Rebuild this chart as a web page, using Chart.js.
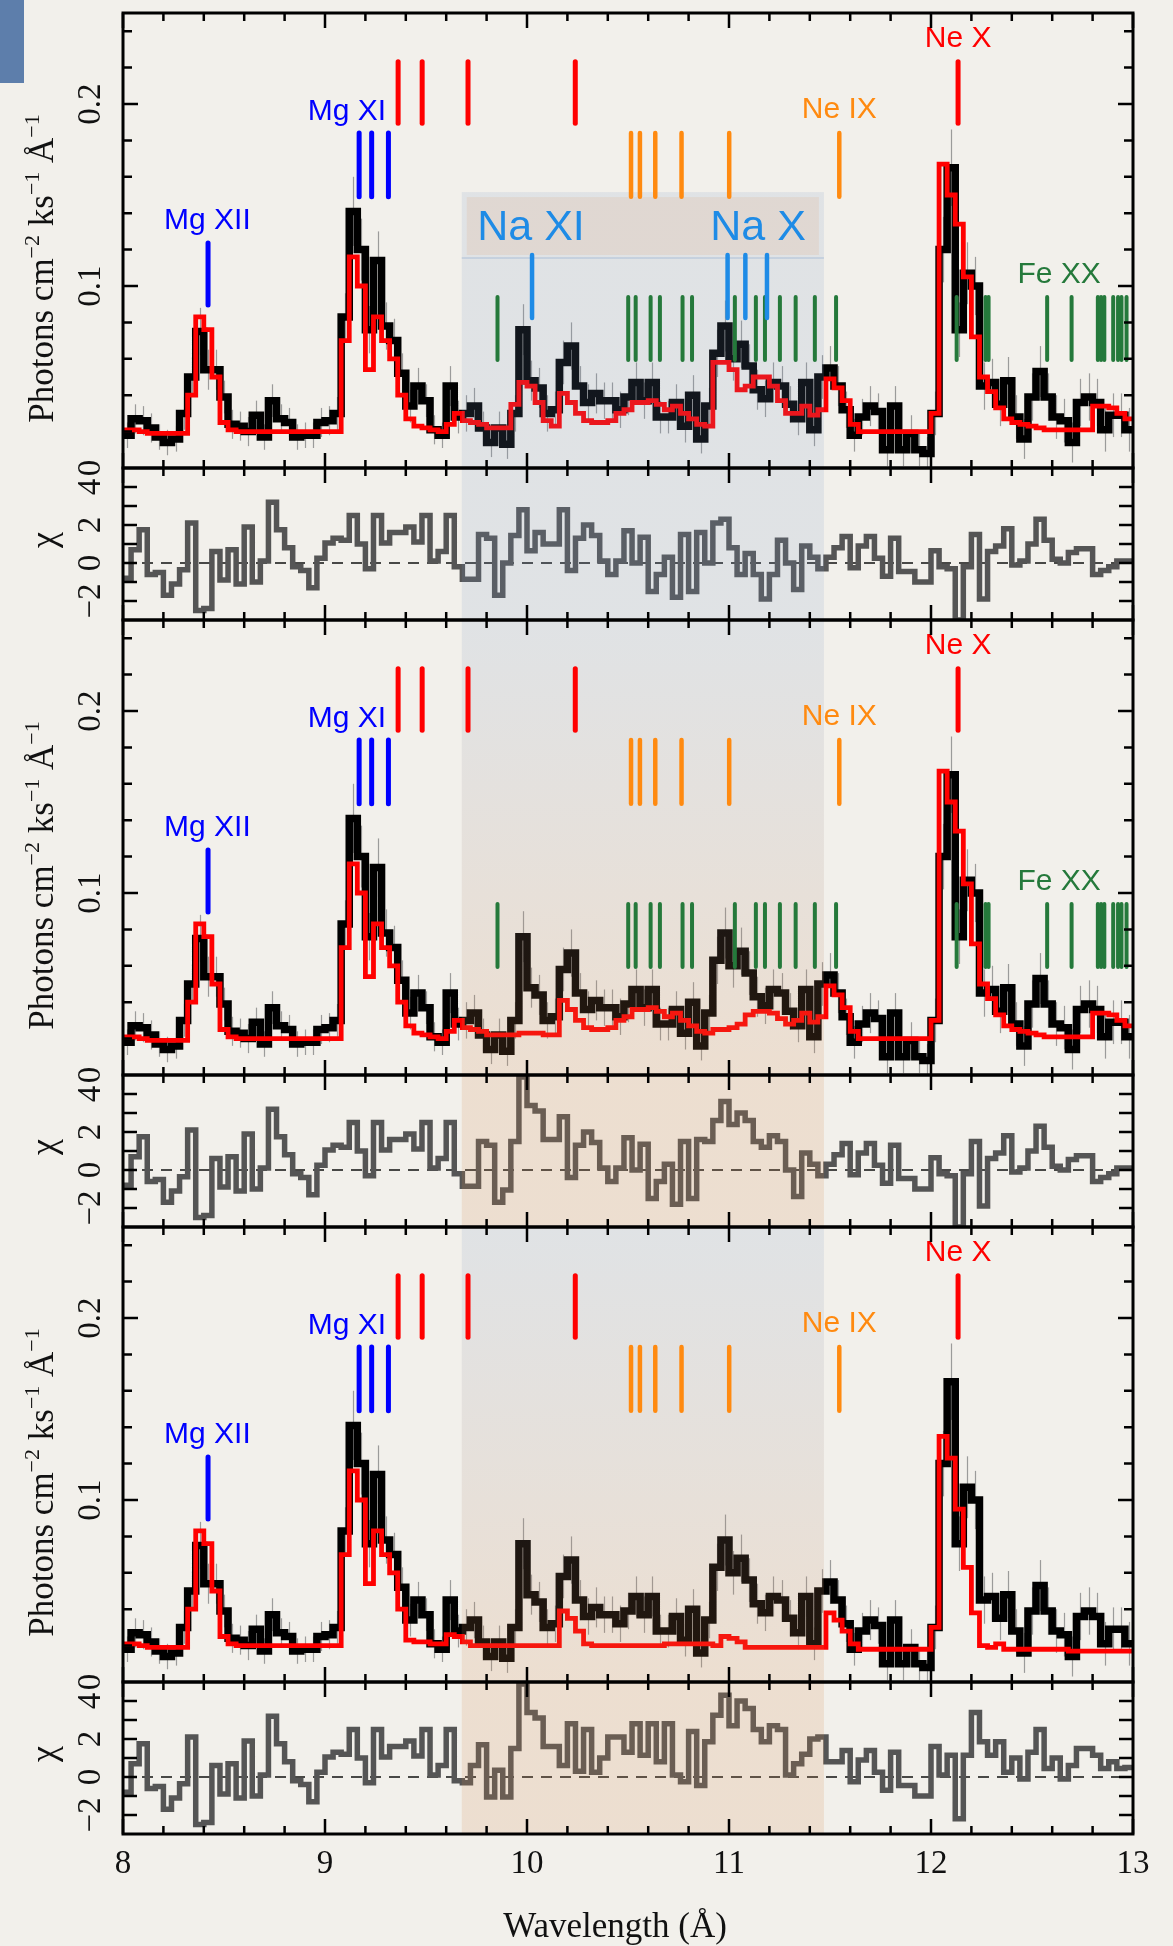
<!DOCTYPE html>
<html>
<head>
<meta charset="utf-8">
<script src="https://cdn.jsdelivr.net/npm/chart.js@4.4.1/dist/chart.umd.min.js"></script>
<style>
  html, body { margin: 0; padding: 0; background: #f2f0eb; }
  canvas { display: block; }
</style>
</head>
<body>
<canvas id="spectrum" width="1173" height="1946"></canvas>
<script>
// ---- spectral grid: 125 bins of 0.04 Å from 8 to 13 Å ----
const BIN_START = 8.0;
const BIN_WIDTH = 0.04;

// observed flux (photons cm^-2 ks^-1 Å^-1), one value per bin
const fluxObserved = [
  0.018,0.027,0.026,0.022,0.017,0.014,0.016,0.030,0.050,0.075,
  0.054,0.054,0.039,0.024,0.023,0.020,0.029,0.017,0.037,0.027,
  0.025,0.017,0.018,0.018,0.025,0.026,0.030,0.083,0.141,0.120,
  0.076,0.114,0.078,0.070,0.052,0.034,0.045,0.037,0.021,0.018,
  0.045,0.028,0.030,0.034,0.022,0.014,0.022,0.013,0.030,0.076,
  0.048,0.044,0.030,0.032,0.058,0.067,0.045,0.036,0.041,0.037,
  0.037,0.032,0.039,0.047,0.037,0.047,0.028,0.028,0.036,0.023,
  0.040,0.016,0.034,0.063,0.078,0.060,0.068,0.056,0.043,0.038,
  0.047,0.045,0.035,0.027,0.047,0.021,0.050,0.055,0.045,0.032,
  0.018,0.028,0.034,0.031,0.010,0.034,0.010,0.019,0.010,0.008,
  0.030,0.120,0.165,0.076,0.107,0.100,0.045,0.047,0.035,0.048,
  0.028,0.016,0.039,0.053,0.039,0.028,0.026,0.014,0.036,0.039,
  0.036,0.021,0.029,0.029,0.021
];

// 1-sigma uncertainty of each observed bin
const fluxError = [
  0.007,0.008,0.008,0.008,0.007,0.007,0.007,0.009,0.011,0.013,
  0.011,0.011,0.009,0.008,0.008,0.008,0.008,0.007,0.009,0.008,
  0.008,0.007,0.007,0.007,0.008,0.008,0.009,0.013,0.019,0.017,
  0.013,0.016,0.013,0.012,0.011,0.009,0.010,0.009,0.008,0.007,
  0.011,0.009,0.010,0.010,0.009,0.008,0.009,0.008,0.010,0.014,
  0.011,0.011,0.010,0.010,0.012,0.013,0.011,0.010,0.011,0.010,
  0.010,0.010,0.010,0.011,0.010,0.011,0.009,0.009,0.010,0.009,
  0.011,0.008,0.010,0.013,0.014,0.012,0.013,0.012,0.011,0.010,
  0.011,0.011,0.010,0.009,0.011,0.009,0.012,0.012,0.011,0.010,
  0.009,0.010,0.011,0.010,0.009,0.011,0.009,0.010,0.009,0.009,
  0.012,0.018,0.021,0.015,0.017,0.016,0.013,0.013,0.012,0.013,
  0.012,0.011,0.013,0.014,0.013,0.012,0.012,0.011,0.013,0.013,
  0.013,0.012,0.012,0.012,0.012
];

// model: continuum + Mg, Ne, Fe XX and Na lines
const modelFull = [
  0.021,0.021,0.020,0.019,0.019,0.019,0.019,0.019,0.040,0.083,
  0.076,0.050,0.025,0.021,0.020,0.020,0.020,0.020,0.020,0.020,
  0.020,0.020,0.020,0.020,0.020,0.020,0.020,0.070,0.116,0.100,
  0.054,0.083,0.070,0.060,0.040,0.027,0.023,0.022,0.021,0.020,
  0.024,0.030,0.026,0.025,0.024,0.022,0.022,0.022,0.035,0.047,
  0.045,0.036,0.026,0.023,0.041,0.036,0.030,0.026,0.025,0.025,
  0.026,0.030,0.032,0.036,0.036,0.037,0.035,0.032,0.034,0.030,
  0.027,0.024,0.023,0.058,0.058,0.054,0.043,0.045,0.050,0.050,
  0.045,0.037,0.030,0.030,0.034,0.029,0.032,0.049,0.044,0.037,
  0.024,0.020,0.020,0.020,0.020,0.020,0.020,0.020,0.020,0.020,
  0.030,0.167,0.150,0.134,0.105,0.072,0.050,0.042,0.033,0.027,
  0.025,0.024,0.023,0.022,0.021,0.021,0.021,0.021,0.021,0.021,
  0.034,0.034,0.033,0.030,0.027
];

// model without the Na lines
const modelNoNa = [
  0.021,0.021,0.020,0.019,0.019,0.019,0.019,0.019,0.040,0.083,
  0.076,0.050,0.025,0.021,0.020,0.020,0.020,0.020,0.020,0.020,
  0.020,0.020,0.020,0.020,0.020,0.020,0.020,0.070,0.116,0.100,
  0.054,0.083,0.070,0.060,0.040,0.027,0.023,0.022,0.021,0.020,
  0.024,0.030,0.026,0.025,0.024,0.022,0.022,0.022,0.022,0.023,
  0.023,0.023,0.022,0.022,0.041,0.036,0.030,0.026,0.025,0.025,
  0.026,0.030,0.032,0.036,0.036,0.037,0.035,0.032,0.034,0.030,
  0.027,0.024,0.023,0.025,0.025,0.026,0.028,0.033,0.035,0.035,
  0.034,0.031,0.028,0.030,0.034,0.029,0.032,0.049,0.044,0.037,
  0.024,0.020,0.020,0.020,0.020,0.020,0.020,0.020,0.020,0.020,
  0.030,0.167,0.150,0.134,0.105,0.072,0.050,0.042,0.033,0.027,
  0.025,0.024,0.023,0.022,0.021,0.021,0.021,0.021,0.021,0.021,
  0.034,0.034,0.033,0.030,0.027
];

// model without Na and Fe XX lines
const modelNoNaFe = [
  0.021,0.021,0.020,0.019,0.019,0.019,0.019,0.019,0.040,0.083,
  0.076,0.050,0.025,0.021,0.020,0.020,0.020,0.020,0.020,0.020,
  0.020,0.020,0.020,0.020,0.020,0.020,0.020,0.070,0.116,0.100,
  0.054,0.083,0.070,0.060,0.040,0.023,0.022,0.022,0.021,0.021,
  0.026,0.025,0.022,0.020,0.020,0.020,0.020,0.020,0.020,0.020,
  0.020,0.020,0.020,0.020,0.039,0.035,0.028,0.021,0.020,0.020,
  0.020,0.020,0.020,0.020,0.020,0.020,0.020,0.021,0.021,0.021,
  0.021,0.021,0.021,0.020,0.025,0.024,0.022,0.019,0.019,0.019,
  0.019,0.019,0.019,0.019,0.019,0.019,0.019,0.038,0.034,0.028,
  0.021,0.018,0.018,0.018,0.018,0.018,0.018,0.018,0.018,0.018,
  0.030,0.135,0.123,0.095,0.063,0.038,0.020,0.019,0.021,0.018,
  0.018,0.018,0.018,0.018,0.018,0.018,0.018,0.017,0.017,0.017,
  0.017,0.017,0.017,0.017,0.017
];

// residuals (data - model) / sigma for the three fits
const chiFull = [
  -0.8,0.7,1.75,-0.6,-0.5,-1.7,-1.1,-0.35,2.1,-2.5,
  -2.4,0.6,-0.9,0.7,-1.1,1.9,-1.0,0.1,3.2,1.75,
  0.8,-0.2,-0.4,-1.3,0.25,1.05,1.3,1.2,2.5,1.0,
  -0.3,2.5,1.05,1.6,1.6,1.9,1.1,2.5,0.1,0.6,
  2.5,-0.2,-0.85,-0.85,1.5,1.3,-1.7,0.0,1.45,2.8,
  0.65,1.6,1.0,1.0,2.8,-0.4,1.3,2.0,1.45,0.1,
  -0.6,0.1,1.7,0.0,1.36,-1.5,-0.6,0.3,-1.8,1.5,
  -1.5,1.6,0.0,2.1,2.3,0.8,-0.6,0.5,-0.6,-1.9,
  -0.6,1.2,0.0,-1.4,0.9,0.3,-0.3,0.3,0.8,1.4,
  -0.25,0.9,1.4,0.25,-0.7,1.3,-0.45,-0.45,-1.0,-1.0,
  0.65,-0.2,-0.3,-3.0,-0.2,1.5,-1.9,0.6,0.9,1.8,
  -0.1,0.1,1.0,2.3,1.2,0.2,0.0,0.55,0.75,0.75,
  -0.6,-0.4,-0.2,0.1,0.1
];

const chiNoNa = [
  -0.8,0.7,1.75,-0.6,-0.5,-1.7,-1.1,-0.35,2.1,-2.5,
  -2.4,0.6,-0.9,0.7,-1.1,1.9,-1.0,0.1,3.2,1.75,
  0.8,-0.2,-0.4,-1.3,0.25,1.05,1.3,1.2,2.5,1.0,
  -0.3,2.5,1.05,1.6,1.6,1.9,1.1,2.5,0.1,0.6,
  2.5,-0.2,-0.85,-0.85,1.5,1.3,-1.7,-1.05,1.5,4.9,
  3.4,3.1,1.6,1.6,2.8,-0.4,1.3,2.0,1.45,0.1,
  -0.6,0.1,1.7,0.0,1.36,-1.5,-0.6,0.3,-1.8,1.5,
  -1.5,1.6,1.5,2.6,3.6,2.4,3.0,2.6,1.5,1.2,
  1.8,1.5,0.0,-1.4,0.9,0.3,-0.3,0.3,0.8,1.4,
  -0.25,0.9,1.4,0.25,-0.7,1.3,-0.45,-0.45,-1.0,-1.0,
  0.65,-0.2,-0.3,-3.0,-0.2,1.5,-1.9,0.6,0.9,1.8,
  -0.1,0.1,1.0,2.3,1.2,0.2,0.0,0.55,0.75,0.75,
  -0.6,-0.4,-0.2,0.1,0.1
];

const chiNoNaFe = [
  -0.8,0.7,1.75,-0.6,-0.5,-1.7,-1.1,-0.35,2.1,-2.5,
  -2.4,0.6,-0.9,0.7,-1.1,1.9,-1.0,0.1,3.2,1.75,
  0.8,-0.2,-0.4,-1.3,0.25,1.05,1.3,1.2,2.5,1.0,
  -0.3,2.5,1.05,1.6,1.6,1.9,1.1,2.5,0.1,0.6,
  2.5,-0.2,-0.3,0.6,1.7,-1.05,0.35,-1.05,1.5,4.9,
  3.4,3.1,1.6,1.6,0.6,2.8,0.3,2.5,0.25,1.0,
  2.1,2.1,1.3,2.8,1.15,2.8,0.8,2.8,0.1,-0.25,
  2.4,-0.45,1.85,3.25,4.3,2.7,4.0,3.6,2.5,1.85,
  2.7,2.5,0.1,0.7,1.2,2.0,2.1,0.8,0.8,1.4,
  -0.25,0.9,1.4,0.25,-0.7,1.3,-0.45,-0.45,-1.0,-1.0,
  1.6,0.1,1.15,-2.2,1.15,3.4,1.85,1.15,1.85,0.25,
  1.0,-0.1,1.3,2.5,0.45,1.0,-0.1,0.6,1.5,1.5,
  1.15,0.45,0.8,0.45,0.5
];

// axis ticks and labels
const wavelengthTicks = [8, 9, 10, 11, 12, 13];
const fluxTicks = [0, 0.1, 0.2];
const fluxTickLabels = ['0', '0.1', '0.2'];
const chiTicks = [-2, 0, 2, 4];
const chiTickLabels = ['\u22122', '0', '2', '4'];

// line identifications (rest wavelengths, Å)
const neXSeries = [9.362, 9.481, 9.708, 10.239, 12.134];
const neIXLines = [10.515, 10.559, 10.635, 10.765, 11.001, 11.546];
const mgXIILines = [8.421];
const mgXILines = [9.169, 9.231, 9.314];
const feXXLines = [9.854, 10.501, 10.538, 10.612, 10.658, 10.770, 10.817, 11.029, 11.133,
                   11.178, 11.252, 11.330, 11.425, 11.530, 12.127, 12.270, 12.285, 12.575,
                   12.696, 12.826, 12.842, 12.858, 12.902, 12.926, 12.943, 12.968];
const naXILines = [10.025];
const naXLines = [10.993, 11.081, 11.188];
const naBand = [9.677, 11.47];

// ---- panels ----
const fluxAxes = ['f1', 'f2', 'f3'];
const chiAxes = ['r1', 'r2', 'r3'];
const models = [modelFull, modelNoNa, modelNoNaFe];
const residuals = [chiFull, chiNoNa, chiNoNaFe];

const COLORS = {
  red: '#ff0000', orange: '#ff8a10', blue: '#0000ff', green: '#25793b', na: '#1e8be6',
  data: '#000000', resid: '#555555', errbar: 'rgba(140,140,140,0.85)'
};

const idMarks = [
  { lines: neXSeries, y: [0.1894, 0.2232], color: COLORS.red, width: 5, panels: [0, 1, 2] },
  { lines: neIXLines, y: [0.149, 0.184], color: COLORS.orange, width: 4.5, panels: [0, 1, 2] },
  { lines: mgXIILines, y: [0.0896, 0.1236], color: COLORS.blue, width: 5, panels: [0, 1, 2] },
  { lines: mgXILines, y: [0.149, 0.184], color: COLORS.blue, width: 5, panels: [0, 1, 2] },
  { lines: feXXLines, y: [0.0593, 0.094], color: COLORS.green, width: 4, panels: [0, 1] },
  { lines: naXILines.concat(naXLines), y: [0.0824, 0.117], color: COLORS.na, width: 4.5, panels: [0] }
];

const idLabels = [
  { text: 'Ne X', at: 12.134, y: 0.2313, color: COLORS.red, size: 30, panels: [0, 1, 2] },
  { text: 'Ne IX', at: 11.546, y: 0.1923, color: COLORS.orange, size: 30, panels: [0, 1, 2] },
  { text: 'Mg XI', at: 9.109, y: 0.1912, color: COLORS.blue, size: 30, panels: [0, 1, 2] },
  { text: 'Mg XII', at: 8.418, y: 0.1313, color: COLORS.blue, size: 30, panels: [0, 1, 2] },
  { text: 'Fe XX', at: 12.634, y: 0.1016, color: COLORS.green, size: 30, panels: [0, 1] },
  { text: 'Na XI', at: 10.020, y: 0.1253, color: COLORS.na, size: 43, panels: [0] },
  { text: 'Na X', at: 11.144, y: 0.1253, color: COLORS.na, size: 43, panels: [0] }
];

// translucent shading over the Na band, per panel (top colour, bottom colour)
const GREY = 'rgba(120,150,195,0.15)';
const PEACH = 'rgba(210,135,75,0.17)';
const bandShades = [
  { axis: 'f1', from: 0.1516, to: 0, top: GREY, bottom: GREY },
  { axis: 'r1', from: 5, to: -3, top: GREY, bottom: GREY },
  { axis: 'f2', from: 0.25, to: 0, top: GREY, bottom: PEACH },
  { axis: 'r2', from: 5, to: -3, top: PEACH, bottom: PEACH },
  { axis: 'f3', from: 0.25, to: 0, top: GREY, bottom: PEACH },
  { axis: 'r3', from: 5, to: -3, top: PEACH, bottom: PEACH }
];
const naLabelBox = { axis: 'f1', from: 0.1516, to: 0.1154, fill: 'rgba(225,160,110,0.16)', edge: 'rgba(150,175,210,0.35)' };

function histogram(values) {
  const pts = values.map((v, k) => ({ x: BIN_START + k * BIN_WIDTH, y: v }));
  pts.push({ x: BIN_START + values.length * BIN_WIDTH, y: values[values.length - 1] });
  return pts;
}

const datasets = [];
for (let p = 0; p < 3; p++) {
  datasets.push({
    label: 'data ' + (p + 1), data: histogram(fluxObserved), yAxisID: fluxAxes[p],
    borderColor: COLORS.data, borderWidth: 7.5, stepped: 'before', pointRadius: 0, order: 2
  });
  datasets.push({
    label: 'model ' + (p + 1), data: histogram(models[p]), yAxisID: fluxAxes[p],
    borderColor: COLORS.red, borderWidth: 4.8, stepped: 'before', pointRadius: 0, order: 1
  });
  datasets.push({
    label: 'chi ' + (p + 1), data: histogram(residuals[p]), yAxisID: chiAxes[p],
    borderColor: COLORS.resid, borderWidth: 5.5, stepped: 'before', pointRadius: 0, order: 3
  });
}

const SERIF = '"Liberation Serif", "Times New Roman", serif';
const SANS = '"Liberation Sans", Arial, sans-serif';

function rotatedText(ctx, text, x, y, font) {
  ctx.save();
  ctx.translate(x, y);
  ctx.rotate(-Math.PI / 2);
  ctx.font = font;
  ctx.textAlign = 'center';
  ctx.textBaseline = 'alphabetic';
  ctx.fillText(text, 0, 0);
  ctx.restore();
}

// y-axis title with superscripts, written bottom-to-top
function fluxTitle(ctx, x, yCenter) {
  const parts = [
    ['Photons cm', false], ['\u22122', true], [' ks', false], ['\u22121', true], [' \u00c5', false], ['\u22121', true]
  ];
  const big = '35px ' + SERIF, small = '22px ' + SERIF;
  ctx.save();
  let total = 0;
  for (const [t, sup] of parts) { ctx.font = sup ? small : big; total += ctx.measureText(t).width; }
  ctx.translate(x, yCenter);
  ctx.rotate(-Math.PI / 2);
  ctx.textAlign = 'left';
  ctx.textBaseline = 'alphabetic';
  let pos = -total / 2;
  for (const [t, sup] of parts) {
    ctx.font = sup ? small : big;
    ctx.fillText(t, pos, sup ? -14 : 0);
    pos += ctx.measureText(t).width;
  }
  ctx.restore();
}

const spectrumDecor = {
  id: 'spectrumDecor',
  beforeDraw(chart) {
    const ctx = chart.ctx;
    ctx.save();
    ctx.fillStyle = '#f2f0eb';
    ctx.fillRect(0, 0, chart.width, chart.height);
    ctx.fillStyle = '#5d7eab';
    ctx.fillRect(0, 0, 24, 83);
    ctx.restore();
  },
  beforeDatasetsDraw(chart) {
    const ctx = chart.ctx, xs = chart.scales.x;
    ctx.save();
    // zero lines of the residual panels
    ctx.strokeStyle = '#111';
    ctx.lineWidth = 1.6;
    ctx.setLineDash([11, 8]);
    for (const id of chiAxes) {
      const y = chart.scales[id].getPixelForValue(0);
      ctx.beginPath(); ctx.moveTo(xs.left, y); ctx.lineTo(xs.right, y); ctx.stroke();
    }
    ctx.setLineDash([]);
    // error bars of the observed spectrum
    ctx.strokeStyle = COLORS.errbar;
    ctx.lineWidth = 1.2;
    for (const id of fluxAxes) {
      const ys = chart.scales[id];
      fluxObserved.forEach((v, k) => {
        const x = Math.round(xs.getPixelForValue(BIN_START + (k + 0.5) * BIN_WIDTH)) + 0.5;
        ctx.beginPath();
        ctx.moveTo(x, ys.getPixelForValue(Math.max(0, v - fluxError[k])));
        ctx.lineTo(x, ys.getPixelForValue(v + fluxError[k]));
        ctx.stroke();
      });
    }
    ctx.restore();
  },
  afterDatasetsDraw(chart) {
    const ctx = chart.ctx, xs = chart.scales.x;
    const x0 = xs.getPixelForValue(naBand[0]), x1 = xs.getPixelForValue(naBand[1]);
    ctx.save();
    for (const s of bandShades) {
      const ys = chart.scales[s.axis];
      const yTop = ys.getPixelForValue(s.from), yBot = ys.getPixelForValue(s.to);
      const g = ctx.createLinearGradient(0, yTop, 0, yBot);
      g.addColorStop(0, s.top); g.addColorStop(1, s.bottom);
      ctx.fillStyle = g;
      ctx.fillRect(x0, yTop, x1 - x0, yBot - yTop);
    }
    {
      const ys = chart.scales[naLabelBox.axis];
      const yTop = ys.getPixelForValue(naLabelBox.from), yBot = ys.getPixelForValue(naLabelBox.to);
      ctx.fillStyle = naLabelBox.fill;
      ctx.fillRect(x0 + 5, yTop + 5, x1 - x0 - 10, yBot - yTop - 8);
      ctx.strokeStyle = naLabelBox.edge; ctx.lineWidth = 2;
      ctx.beginPath(); ctx.moveTo(x0, yBot); ctx.lineTo(x1, yBot); ctx.stroke();
    }
    // line identification marks
    ctx.lineCap = 'round';
    for (const m of idMarks) {
      ctx.strokeStyle = m.color; ctx.lineWidth = m.width;
      for (const p of m.panels) {
        const ys = chart.scales[fluxAxes[p]];
        const yA = ys.getPixelForValue(m.y[0]), yB = ys.getPixelForValue(m.y[1]);
        for (const w of m.lines) {
          const x = xs.getPixelForValue(w);
          ctx.beginPath(); ctx.moveTo(x, yA); ctx.lineTo(x, yB); ctx.stroke();
        }
      }
    }
    ctx.textAlign = 'center'; ctx.textBaseline = 'alphabetic';
    for (const l of idLabels) {
      ctx.fillStyle = l.color; ctx.font = l.size + 'px ' + SANS;
      for (const p of l.panels) {
        const ys = chart.scales[fluxAxes[p]];
        ctx.fillText(l.text, xs.getPixelForValue(l.at), ys.getPixelForValue(l.y));
      }
    }
    ctx.restore();
  },
  afterDraw(chart) {
    const ctx = chart.ctx, xs = chart.scales.x;
    const L = xs.left, R = xs.right;
    ctx.save();
    ctx.strokeStyle = '#000'; ctx.fillStyle = '#000';
    const allAxes = ['f1', 'r1', 'f2', 'r2', 'f3', 'r3'];
    // ticks along x on top and bottom of every panel
    ctx.lineWidth = 2.5;
    for (const id of allAxes) {
      const ys = chart.scales[id];
      for (let i = 0; i <= 25; i++) {
        const w = 8 + i * 0.2;
        const major = i % 5 === 0;
        const len = major ? 15 : 8;
        const x = xs.getPixelForValue(w);
        ctx.beginPath();
        ctx.moveTo(x, ys.top); ctx.lineTo(x, ys.top + len);
        ctx.moveTo(x, ys.bottom); ctx.lineTo(x, ys.bottom - len);
        ctx.stroke();
      }
    }
    // y ticks, left and right
    for (let p = 0; p < 3; p++) {
      const ys = chart.scales[fluxAxes[p]];
      for (let i = 1; i <= 12; i++) {
        const v = i * 0.02;
        const major = i % 5 === 0;
        const len = major ? 15 : 9;
        const y = ys.getPixelForValue(v);
        ctx.beginPath();
        ctx.moveTo(L, y); ctx.lineTo(L + len, y);
        ctx.moveTo(R, y); ctx.lineTo(R - len, y);
        ctx.stroke();
      }
      const rs = chart.scales[chiAxes[p]];
      for (let v = -2; v <= 4; v++) {
        const y = rs.getPixelForValue(v);
        ctx.beginPath();
        ctx.moveTo(L, y); ctx.lineTo(L + 14, y);
        ctx.moveTo(R, y); ctx.lineTo(R - 14, y);
        ctx.stroke();
      }
    }
    // panel frames
    ctx.lineWidth = 3;
    for (const id of allAxes) {
      const ys = chart.scales[id];
      ctx.strokeRect(L, ys.top, R - L, ys.bottom - ys.top);
    }
    // tick labels
    ctx.fillStyle = '#111';
    const tickFont = '33px ' + SERIF;
    for (let p = 0; p < 3; p++) {
      const ys = chart.scales[fluxAxes[p]];
      fluxTicks.forEach((v, i) => rotatedText(ctx, fluxTickLabels[i], 100, ys.getPixelForValue(v), tickFont));
      const rs = chart.scales[chiAxes[p]];
      chiTicks.forEach((v, i) => rotatedText(ctx, chiTickLabels[i], 100, rs.getPixelForValue(v), tickFont));
      fluxTitle(ctx, 53, (ys.top + ys.bottom) / 2 + 28);
      rotatedText(ctx, '\u03c7', 55, (rs.top + rs.bottom) / 2 - 4, '36px ' + SERIF);
    }
    ctx.font = tickFont; ctx.textAlign = 'center'; ctx.textBaseline = 'alphabetic';
    for (const w of wavelengthTicks) ctx.fillText(String(w), xs.getPixelForValue(w), 1873);
    ctx.font = '35px ' + SERIF;
    ctx.fillText('Wavelength (\u00c5)', 615, 1937);
    ctx.restore();
  }
};

function panelScale(min, max, weight, stackWeight) {
  return { type: 'linear', position: 'left', stack: 'panels', stackWeight, weight, min, max, display: false };
}

new Chart(document.getElementById('spectrum'), {
  type: 'line',
  data: { datasets },
  options: {
    responsive: false,
    animation: false,
    devicePixelRatio: 1,
    parsing: true,
    layout: { padding: { left: 123, right: 40, top: 13, bottom: 112 } },
    plugins: { legend: { display: false }, tooltip: { enabled: false } },
    elements: { point: { radius: 0 }, line: { tension: 0 } },
    scales: {
      x: { type: 'linear', min: 8, max: 13, display: false },
      f1: panelScale(0, 0.25, 6, 455),
      r1: panelScale(-3, 5, 5, 152),
      f2: panelScale(0, 0.25, 4, 455),
      r2: panelScale(-3, 5, 3, 152),
      f3: panelScale(0, 0.25, 2, 455),
      r3: panelScale(-3, 5, 1, 152)
    }
  },
  plugins: [spectrumDecor]
});
</script>
</body>
</html>
